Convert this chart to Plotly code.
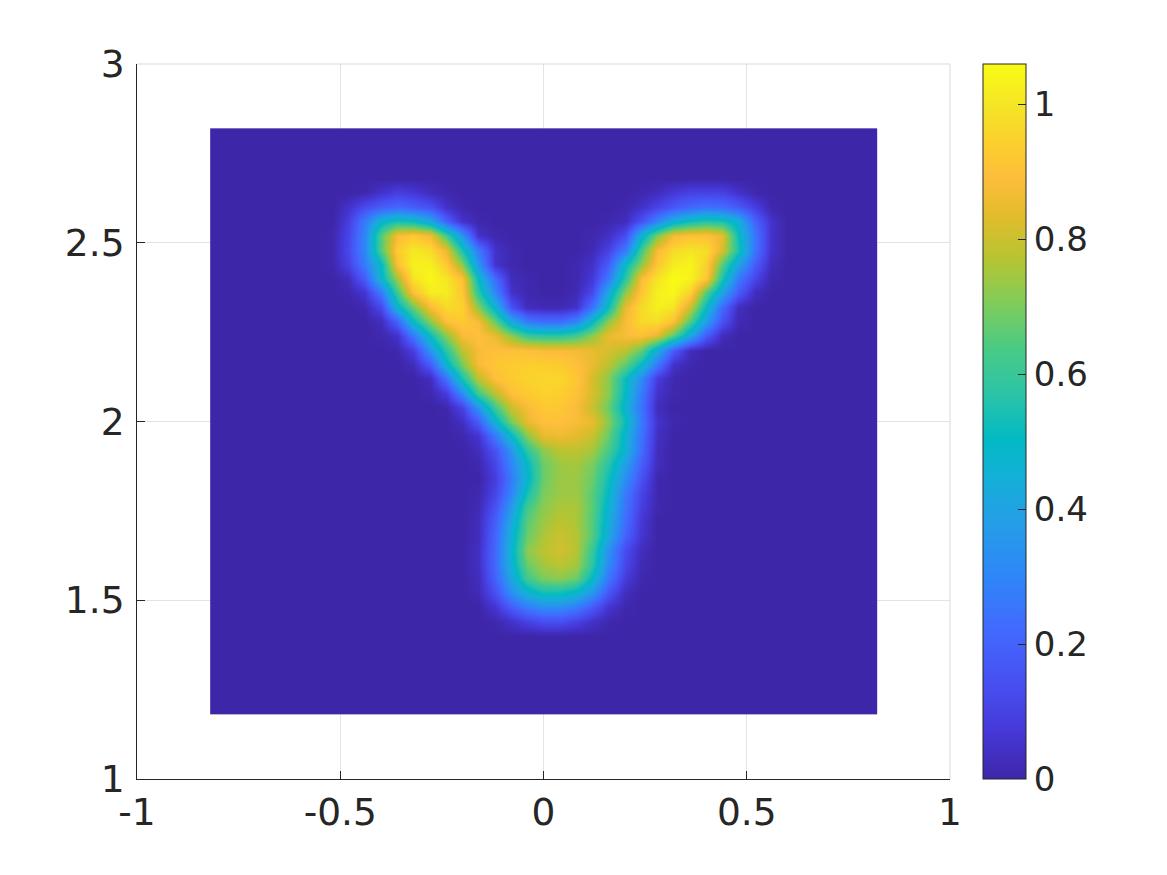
#recreate the Y shaped density map
import plotly.graph_objects as go
import numpy as np

# grid, values (cell centres, step 0.04)
x_vals = [round(-0.80 + 0.04 * i, 2) for i in range(41)]
y_vals = [round(1.20 + 0.04 * i, 2) for i in range(41)]
first_col = 7  # core_rows starts at x = -0.52

core_top_y = 2.64  # first row of core_rows, going down
core_rows = [
    [0,0,.01,.05,.09,.07,.03,.01] + [0]*11 + [.01,.03,.07,.1,.1,.1,.05,.01,0,0],
    [0,.05,.13,.19,.22,.19,.15,.05,.01] + [0]*9 + [.01,.05,.11,.17,.22,.25,.23,.18,.09,.01,0],
    [0,.09,.27,.48,.55,.52,.42,.2,.05,.01] + [0]*7 + [.01,.03,.15,.3,.45,.53,.57,.55,.45,.2,.05,0],
    [.01,.11,.3,.65,.88,.92,.87,.62,.35,.05,.01] + [0]*5 + [.01,.04,.13,.45,.7,.87,.9,.9,.85,.52,.25,.05,0],
    [.01,.12,.3,.65,.93,1.01,.98,.85,.55,.27,.05,.01] + [0]*4 + [.02,.1,.27,.62,.88,.97,1.0,.98,.82,.55,.25,.05,0],
    [.01,.1,.27,.5,.9,1.03,1.03,.93,.72,.35,.05,.01] + [0]*3 + [.01,.05,.18,.5,.72,.92,1.02,1.04,.95,.65,.4,.18,.03,0],
    [0,.03,.18,.48,.75,1.0,1.05,1.0,.9,.5,.22,.03,.01] + [0]*2 + [.01,.07,.27,.58,.88,1.0,1.06,1.04,.92,.55,.27,.11,.01,0],
    [0,.01,.06,.27,.62,.9,1.02,1.02,.92,.58,.3,.05,.01] + [0]*2 + [.02,.12,.42,.72,.92,1.03,1.05,.95,.65,.4,.18,.03,0,0],
    [0,0,.01,.12,.47,.68,.88,.97,.95,.72,.47,.15,.03,.02,.02,.05,.25,.52,.85,.97,1.03,1.0,.8,.5,.22,.03,0,0,0],
    [0,0,0,.03,.2,.5,.72,.9,.93,.88,.67,.42,.27,.23,.23,.3,.5,.72,.88,.97,.98,.9,.64,.38,.15,.02,0,0,0],
    [0,0,0,.01,.05,.27,.52,.72,.88,.9,.85,.72,.6,.58,.58,.62,.72,.85,.88,.9,.84,.66,.42,.18,.03,0,0,0,0],
    [0]*4 + [.01,.09,.35,.58,.78,.88,.9,.9,.9,.88,.88,.87,.85,.82,.78,.67,.43,.18,.03] + [0]*6,
    [0]*5 + [.03,.18,.47,.7,.88,.92,.93,.94,.94,.93,.9,.85,.78,.67,.5,.27,.05,.01] + [0]*6,
    [0]*6 + [.03,.25,.55,.78,.9,.93,.95,.96,.96,.92,.82,.72,.52,.32,.08,.01] + [0]*7,
    [0]*6 + [.01,.08,.32,.62,.78,.9,.93,.95,.94,.9,.82,.72,.5,.27,.05,.01] + [0]*7,
    [0]*7 + [.01,.1,.35,.62,.8,.88,.92,.92,.88,.8,.68,.47,.25,.03] + [0]*8,
    [0]*8 + [.04,.18,.47,.7,.85,.9,.9,.88,.85,.72,.52,.27,.05,.01] + [0]*7,
    [0]*8 + [.01,.06,.27,.5,.72,.85,.86,.84,.8,.68,.47,.25,.04] + [0]*8,
    [0]*9 + [.03,.15,.35,.58,.72,.78,.78,.75,.63,.47,.23,.03] + [0]*8,
    [0]*9 + [.01,.11,.3,.5,.68,.74,.75,.7,.57,.38,.19,.03] + [0]*8,
    [0]*9 + [0,.09,.27,.48,.68,.74,.74,.68,.53,.33,.15,.01] + [0]*8,
    [0]*9 + [.01,.11,.3,.54,.7,.74,.74,.66,.5,.27,.11,.01] + [0]*8,
    [0]*9 + [.02,.15,.37,.62,.72,.76,.76,.66,.47,.25,.09,.01] + [0]*8,
    [0]*9 + [.03,.19,.42,.66,.74,.78,.76,.65,.45,.23,.07,0] + [0]*8,
    [0]*9 + [.03,.21,.45,.68,.76,.8,.77,.65,.42,.2,.06,0] + [0]*8,
    [0]*9 + [.04,.22,.47,.72,.78,.81,.77,.6,.34,.13,.03,0] + [0]*8,
    [0]*9 + [.04,.22,.46,.68,.75,.78,.75,.58,.32,.12,.02,0] + [0]*8,
    [0]*9 + [.03,.2,.41,.62,.7,.72,.68,.5,.26,.08,.01,0] + [0]*8,
    [0]*9 + [.02,.14,.32,.45,.52,.52,.47,.35,.16,.03,0,0] + [0]*8,
    [0]*9 + [0,.06,.18,.27,.32,.32,.27,.17,.06,.01,0,0] + [0]*8,
    [0]*9 + [0,.01,.05,.1,.14,.14,.1,.05,.01,0,0,0] + [0]*8,
]

x_ticks = [-1, -0.5, 0, 0.5, 1]
x_tick_text = ['-1', '-0.5', '0', '0.5', '1']
y_ticks = [1, 1.5, 2, 2.5, 3]
y_tick_text = ['1', '1.5', '2', '2.5', '3']
cbar_ticks = [0, 0.2, 0.4, 0.6, 0.8, 1]
cbar_tick_text = ['0', '0.2', '0.4', '0.6', '0.8', '1']
z_max = 1.06

# parula stops, index into the 64 colour table
parula_idx = [0, 4, 8, 13, 18, 23, 27, 30, 34, 38, 42, 46, 50, 53, 56, 59, 63]
parula = [
    (0.2422, 0.1504, 0.6603), (0.2706, 0.2147, 0.8364), (0.2813, 0.3006, 0.9414),
    (0.2602, 0.4123, 0.9952), (0.1786, 0.5289, 0.9682), (0.1380, 0.6276, 0.8973),
    (0.0689, 0.6948, 0.8394), (0.0067, 0.7312, 0.7660), (0.1717, 0.7670, 0.6554),
    (0.2906, 0.7973, 0.5188), (0.5044, 0.7993, 0.3480), (0.7242, 0.7698, 0.1910),
    (0.9035, 0.7330, 0.1774), (0.9956, 0.7434, 0.2371), (0.9892, 0.8134, 0.1760),
    (0.9610, 0.8890, 0.1537), (0.9769, 0.9839, 0.0805),
]
colorscale = [[i / 63, 'rgb(%d,%d,%d)' % tuple(round(c * 255) for c in p)]
              for i, p in zip(parula_idx, parula)]

# %% fill the full grid
z = np.zeros((len(y_vals), len(x_vals)))
top_row = y_vals.index(core_top_y)
for n, row in enumerate(core_rows):
    z[top_row - n, first_col:first_col + len(row)] = row

# %%
fig = go.Figure(go.Heatmap(
    x=x_vals, y=y_vals, z=z, zmin=0, zmax=z_max, zsmooth='best',
    colorscale=colorscale,
    colorbar=dict(
        x=(983 - 137) / 813, xanchor='left', xpad=0,
        y=0, yanchor='bottom', ypad=0, len=1, lenmode='fraction',
        thickness=43, thicknessmode='pixels',
        outlinecolor='#262626', outlinewidth=1,
        ticks='inside', ticklen=8, tickwidth=1, tickcolor='#262626',
        tickmode='array', tickvals=cbar_ticks, ticktext=cbar_tick_text,
        tickfont=dict(family='DejaVu Sans', size=34, color='#262626'),
    ),
))

axis_style = dict(
    showgrid=True, gridcolor='#e3e3e3', gridwidth=1, zeroline=False,
    showline=True, linecolor='#262626', linewidth=1,
    ticks='inside', ticklen=8, tickwidth=1, tickcolor='#262626',
    tickfont=dict(family='DejaVu Sans', size=37.5, color='#262626'),
)
fig.update_xaxes(range=[-1, 1], tickmode='array', tickvals=x_ticks, ticktext=x_tick_text, **axis_style)
fig.update_yaxes(range=[1, 3], tickmode='array', tickvals=y_ticks, ticktext=y_tick_text,
                 ticklabelstandoff=4, **axis_style)

# top and right edges of the box are light
fig.add_shape(type='line', xref='paper', yref='paper', x0=0, x1=1, y0=1, y1=1,
              line=dict(color='#d9d9d9', width=1))
fig.add_shape(type='line', xref='paper', yref='paper', x0=1, x1=1, y0=0, y1=1,
              line=dict(color='#d9d9d9', width=1))

# the page body has an 8px margin, so the figure sits at (8, 8)
fig.update_layout(
    width=1167, height=875, autosize=False,
    margin=dict(l=129, r=225, t=56, b=104, pad=0),
    paper_bgcolor='white', plot_bgcolor='white',
    showlegend=False,
)

fig.write_html("out.html")
